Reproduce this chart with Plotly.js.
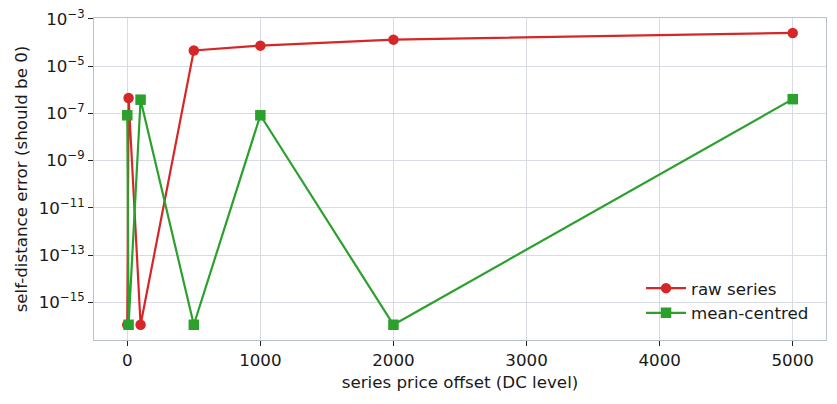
<!DOCTYPE html>
<html>
<head>
<meta charset="utf-8">
<script src="https://cdn.plot.ly/plotly-3.0.1.min.js"></script>
<style>html,body{margin:0;padding:0;background:#fff;}#chart{width:837px;height:404px;}</style>
</head>
<body>
<div id="chart"></div>
<script>
// DC offsets added to the price series
const offsets = [0, 10, 100, 500, 1000, 2000, 5000];
// self-distance error, raw series
const rawError = [1.11e-16, 4.5e-7, 1.11e-16, 4.6e-5, 7.4e-5, 1.33e-4, 2.55e-4];
// self-distance error, mean-centred series
const centredError = [8.3e-8, 1.11e-16, 3.8e-7, 1.11e-16, 8.3e-8, 1.11e-16, 4.0e-7];
// tolerance line
const tolerance = 1e-6;
const xTicks = [0, 1000, 2000, 3000, 4000, 5000];
const yTickExps = [-15, -13, -11, -9, -7, -5, -3];

const font = "'DejaVu Sans', sans-serif";
const txt = '#1a1a1a';
const fs = 16.7;

const traces = [
  {x: offsets, y: rawError, name: 'raw series', type: 'scatter', mode: 'lines+markers',
   line: {color: '#d62728', width: 2.2}, marker: {symbol: 'circle', size: 10.5, color: '#d62728'}},
  {x: offsets, y: centredError, name: 'mean-centred', type: 'scatter', mode: 'lines+markers',
   line: {color: '#2ca02c', width: 2.2}, marker: {symbol: 'square', size: 10.5, color: '#2ca02c'}}
];

const layout = {
  width: 837, height: 404,
  margin: {l: 94, r: 11, t: 18, b: 64},
  paper_bgcolor: '#fff', plot_bgcolor: '#fff',
  font: {family: font, size: fs, color: txt},
  showlegend: true,
  legend: {x: 0.7473, y: 0.215, xanchor: 'left', yanchor: 'top', bgcolor: 'rgba(0,0,0,0)',
           borderwidth: 0, itemwidth: 40, font: {family: font, size: fs, color: txt}},
  xaxis: {
    range: [-250, 5250], tickvals: xTicks, ticktext: xTicks.map(String),
    ticks: 'outside', ticklen: 5, tickcolor: '#222', tickwidth: 1,
    showgrid: true, gridcolor: '#d6dbe4', gridwidth: 1, zeroline: false,
    showline: true, mirror: true, linecolor: '#b8c0cc', linewidth: 1,
    tickfont: {family: font, size: fs, color: txt},
    title: {text: 'series price offset (DC level)', font: {family: font, size: fs, color: txt}, standoff: 7}
  },
  yaxis: {
    type: 'log', range: [-16.6, -2.96],
    tickvals: yTickExps.map(e => Math.pow(10, e)),
    ticktext: yTickExps.map(e => '10<sup>\u2212' + Math.abs(e) + '</sup>'),
    ticks: 'outside', ticklen: 5, tickcolor: '#222', tickwidth: 1,
    showgrid: true, gridcolor: '#d6dbe4', gridwidth: 1, zeroline: false,
    showline: true, mirror: true, linecolor: '#b8c0cc', linewidth: 1,
    tickfont: {family: font, size: fs, color: txt},
    title: {text: 'self-distance error (should be 0)', font: {family: font, size: fs, color: txt}, standoff: 6}
  },
  shapes: [{type: 'line', xref: 'paper', x0: 0, x1: 1, yref: 'y',
            y0: Math.log10(tolerance), y1: Math.log10(tolerance),
            line: {color: '#999', width: 1.5, dash: 'dot'}, layer: 'below'}]
};

Plotly.newPlot('chart', traces, layout, {displayModeBar: false, staticPlot: true});
</script>
</body>
</html>
